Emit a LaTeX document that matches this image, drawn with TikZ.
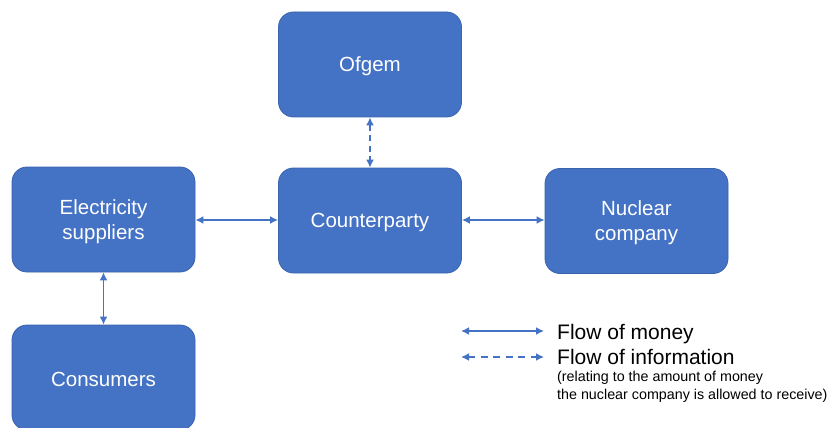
\documentclass[tikz,border=0pt]{standalone}
\usepackage{fontspec}
\setmainfont{Liberation Sans}
\usetikzlibrary{arrows.meta}
\definecolor{boxblue}{HTML}{4472C4}
\definecolor{boxedge}{HTML}{3A63AD}
\definecolor{arrblue}{HTML}{4472C4}
\begin{document}
\begin{tikzpicture}[x=1pt,y=-1pt,
  box/.style={draw=boxedge, line width=0.8pt, fill=boxblue, rounded corners=15pt,
    minimum width=183pt, minimum height=105pt, inner sep=0pt},
  boxtext/.style={text=white, align=center, inner sep=0pt,
    font=\fontsize{20.5}{25}\selectfont, yshift=-2pt},
  flow/.style={draw=arrblue, line width=1.6pt, {Latex[length=8pt,width=8pt]}-{Latex[length=8pt,width=8pt]}},
  info/.style={flow, dash pattern=on 6pt off 4.5pt},
  legtext/.style={anchor=base west, inner sep=0pt, font=\fontsize{21}{22}\selectfont},
  smalltext/.style={anchor=west, inner sep=0pt, align=left, font=\fontsize{14.3}{18}\selectfont}]
\useasboundingbox (0,0) rectangle (831,428);
\begin{scope}
\clip (0,0) rectangle (831,428);
\node[box] (ofgem) at (370,64.5) {};
\node[box] (elec) at (103.5,219.5) {};
\node[box] (cp) at (370,220.5) {};
\node[box] (nuc) at (636.5,221) {};
\node[box] (cons) at (103.5,377.5) {};
\end{scope}
\node[boxtext] (ofgemt) at (ofgem.center) {Ofgem};
\node[boxtext] (elect) at (elec.center) {Electricity\\suppliers};
\node[boxtext] (cpt) at (cp.center) {Counterparty};
\node[boxtext] (nuct) at (nuc.center) {Nuclear\\company};
\node[boxtext] (const) at (cons.center) {Consumers};
\draw[flow] (elec.east |- 0,220) -- (cp.west |- 0,220);
\draw[flow] (cp.east |- 0,220) -- (nuc.west |- 0,220);
\draw[info] (ofgem.south) -- (cp.north);
\draw[flow] (elec.south) -- (cons.north);
% legend
\coordinate (m1) at (461,331);
\coordinate (m2) at (544,331);
\coordinate (i1) at (461,357);
\coordinate (i2) at (544,357);
\draw[flow] (m1) -- (m2);
\draw[flow, dash pattern=on 7pt off 5.5pt] (i1) -- (i2);
\node[legtext] (lm) at (557,339) {Flow of money};
\node[legtext] (li) at (557,364.5) {Flow of information};
\node[smalltext, anchor=north west] (ls) at (557,371) {(relating to the amount of money\\the nuclear company is allowed to receive)};
\end{tikzpicture}
\end{document}
